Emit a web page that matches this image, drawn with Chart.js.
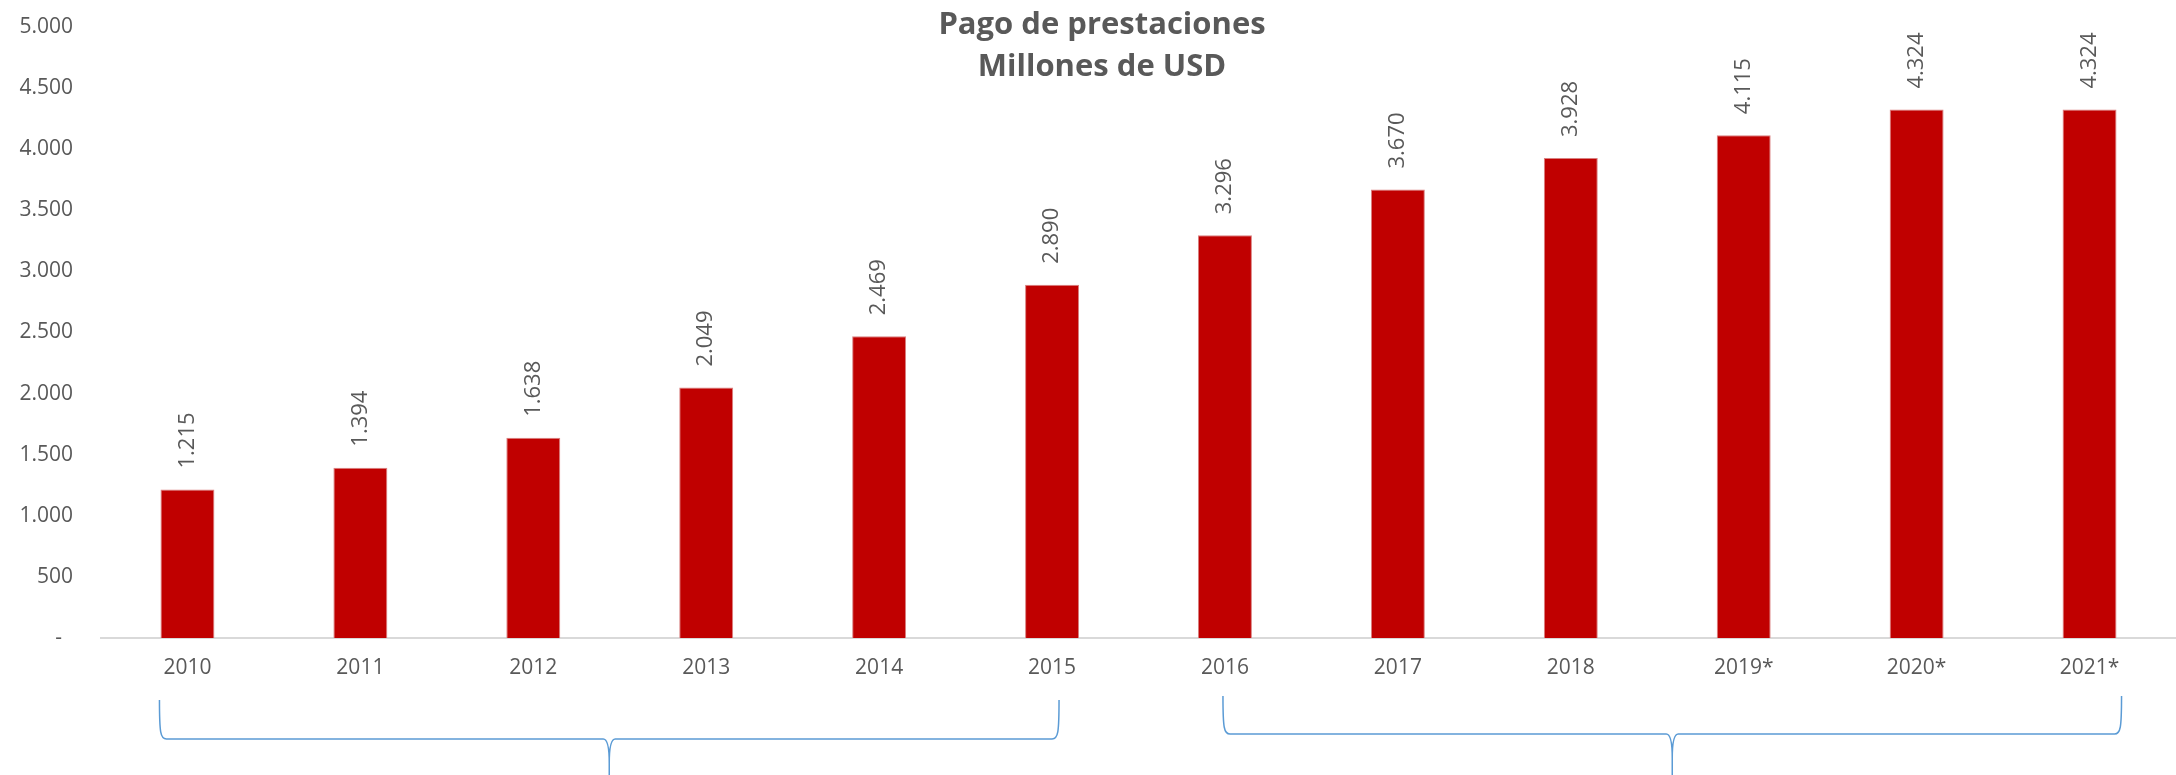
<!DOCTYPE html>
<html>
<head>
<meta charset="utf-8">
<script src="https://cdn.jsdelivr.net/npm/chart.js@4"></script>
<style>
  html, body { margin: 0; padding: 0; background: #fff; }
  #wrap { width: 2176px; height: 775px; position: relative; }
</style>
</head>
<body>
<div id="wrap"><canvas id="chart"></canvas></div>
<script>
// Datos del gráfico
const years  = ['2010', '2011', '2012', '2013', '2014', '2015', '2016', '2017', '2018', '2019*', '2020*', '2021*'];
const pagos  = [1215, 1394, 1638, 2049, 2469, 2890, 3296, 3670, 3928, 4115, 4324, 4324];
const titleLines = ['Pago de prestaciones', 'Millones de USD'];
const yMax = 5000;
const yStep = 500;

// grupos de llaves bajo el eje (índices de categoría)
const groups = [
  { from: 0, to: 5,  dx0: -28, dx1: 7,  top: 62, line: 101 },
  { from: 6, to: 11, dx0: -2,  dx1: 32, top: 58, line: 96 }
];

const grey = '#595959';
const fmt = v => String(v).replace(/\B(?=(\d{3})+(?!\d))/g, '.');

Chart.defaults.font.family = "'Open Sans', sans-serif";
Chart.defaults.font.size = 21;
Chart.defaults.color = grey;

// Etiquetas de valor rotadas
const valueLabels = {
  id: 'valueLabels',
  afterDatasetsDraw(chart) {
    const ctx = chart.ctx;
    const meta = chart.getDatasetMeta(0);
    ctx.save();
    ctx.font = "22px 'Open Sans', sans-serif";
    ctx.fillStyle = grey;
    ctx.textAlign = 'left';
    ctx.textBaseline = 'middle';
    meta.data.forEach((bar, i) => {
      ctx.save();
      ctx.translate(bar.x, bar.y - 21);
      ctx.rotate(-Math.PI / 2);
      ctx.fillText(fmt(pagos[i]), 0, 0);
      ctx.restore();
    });
    ctx.restore();
  }
};

// Título + llaves
const decor = {
  id: 'decor',
  afterDraw(chart) {
    const ctx = chart.ctx;
    const x = chart.scales.x;
    const base = chart.chartArea.bottom;
    ctx.save();
    ctx.font = "bold 31px 'Open Sans', sans-serif";
    ctx.fillStyle = grey;
    ctx.textAlign = 'center';
    ctx.textBaseline = 'middle';
    ctx.fillText(titleLines[0], 1102, 25);
    ctx.fillText(titleLines[1], 1102, 67);

    ctx.strokeStyle = '#5b9bd5';
    ctx.lineWidth = 1.5;
    groups.forEach(g => {
      const x0 = x.getPixelForValue(g.from) + g.dx0;
      const x1 = x.getPixelForValue(g.to) + g.dx1;
      const mid = (x0 + x1) / 2;
      const yt = base + g.top;
      const yl = base + g.line;
      const yb = chart.height;
      ctx.beginPath();
      ctx.moveTo(x0, yt);
      ctx.bezierCurveTo(x0, yl - 6, x0 + 1, yl, x0 + 7, yl);
      ctx.lineTo(mid - 6, yl);
      ctx.bezierCurveTo(mid - 2, yl, mid, yl + 8, mid, yl + 24);
      ctx.lineTo(mid, yb);
      ctx.moveTo(mid, yl + 24);
      ctx.bezierCurveTo(mid, yl + 8, mid + 2, yl, mid + 6, yl);
      ctx.lineTo(x1 - 7, yl);
      ctx.bezierCurveTo(x1 - 1, yl, x1, yl - 6, x1, yt);
      ctx.stroke();
    });
    ctx.restore();
  }
};

new Chart(document.getElementById('chart'), {
  type: 'bar',
  data: {
    labels: years,
    datasets: [{
      data: pagos,
      backgroundColor: '#c00000',
      borderColor: '#d98080',
      borderWidth: 1,
      barPercentage: 0.312,
      categoryPercentage: 1
    }]
  },
  options: {
    responsive: true,
    maintainAspectRatio: false,
    animation: false,
    layout: { padding: { top: 27, left: 0, right: 0, bottom: 0 } },
    plugins: { legend: { display: false }, tooltip: { enabled: false } },
    scales: {
      x: {
        grid: { display: false, drawTicks: false },
        border: { color: '#d9d9d9', width: 2 },
        ticks: { padding: 17, maxRotation: 0, autoSkip: false },
        afterFit: s => { s.height = 137; s.paddingLeft = 0; s.paddingRight = 0; }
      },
      y: {
        min: 0,
        max: yMax,
        grid: { display: false, drawTicks: false },
        border: { display: false },
        ticks: {
          stepSize: yStep,
          padding: 28,
          callback: v => v === 0 ? '-  ' : fmt(v)
        },
        afterFit: s => { s.width = 101; s.paddingTop = 0; s.paddingBottom = 0; }
      }
    }
  },
  plugins: [valueLabels, decor]
});
</script>
</body>
</html>
